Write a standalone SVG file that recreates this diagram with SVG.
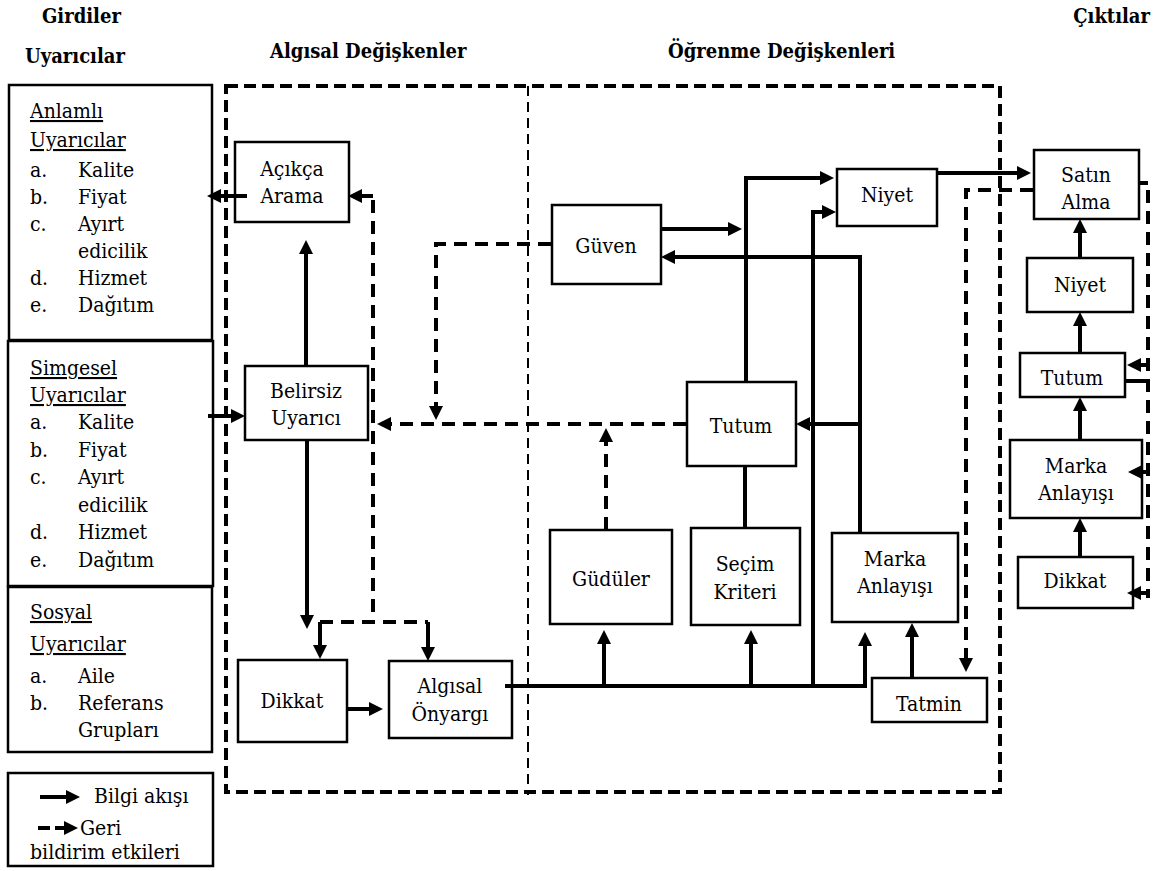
<svg xmlns="http://www.w3.org/2000/svg" width="1157" height="871" viewBox="0 0 1157 871">
  <style>
    text { font-family: "DejaVu Serif", serif; font-stretch: condensed; font-size: 21px; fill: #000; }
    .hd { font-weight: bold; font-size: 20px; }
    .c { text-anchor: middle; }
    .u { text-decoration: underline; }
    .box { fill: #fff; stroke: #000; stroke-width: 2.5; }
    .ln { fill: none; stroke: #000; stroke-width: 4; }
    .arr { marker-end: url(#ah); }
    .dash { fill: none; stroke: #000; stroke-width: 4; stroke-dasharray: 13 8; }
    .border { fill: none; stroke: #000; stroke-width: 4; stroke-dasharray: 12 6; }
    .divider { fill: none; stroke: #000; stroke-width: 2; stroke-dasharray: 10 6; }
  </style>
  <defs>
    <marker id="ah" markerUnits="userSpaceOnUse" markerWidth="14" markerHeight="14" refX="10" refY="7" orient="auto">
      <path d="M0,0 L14,7 L0,14 z" fill="#000"/>
    </marker>
  </defs>
  <rect width="1157" height="871" fill="#fff"/>

  <!-- column headings -->
  <g id="headings">
    <text class="hd" x="42" y="23">Girdiler</text>
    <text class="hd" x="25" y="63">Uyarıcılar</text>
    <text class="hd" x="270" y="58">Algısal Değişkenler</text>
    <text class="hd" x="668" y="58">Öğrenme Değişkenleri</text>
    <text class="hd" x="1150" y="23" text-anchor="end">Çıktılar</text>
  </g>

  <!-- variable regions -->
  <g id="regions">
    <rect class="border" x="226" y="86" width="774" height="706"/>
    <path class="divider" d="M528,86 V795"/>
  </g>

  <!-- input stimuli -->
  <g id="anlamli-uyaricilar">
    <rect class="box" x="9" y="85" width="203" height="255"/>
    <text class="u" x="30" y="118">Anlamlı</text>
    <text class="u" x="30" y="147">Uyarıcılar</text>
    <text x="30" y="177">a.</text><text x="78" y="177">Kalite</text>
    <text x="30" y="204">b.</text><text x="78" y="204">Fiyat</text>
    <text x="30" y="231">c.</text><text x="78" y="231">Ayırt</text>
    <text x="78" y="258">edicilik</text>
    <text x="30" y="285">d.</text><text x="78" y="285">Hizmet</text>
    <text x="30" y="312">e.</text><text x="78" y="312">Dağıtım</text>
  </g>
  <g id="simgesel-uyaricilar">
    <rect class="box" x="8" y="341" width="205" height="245"/>
    <text class="u" x="30" y="375">Simgesel</text>
    <text class="u" x="30" y="402">Uyarıcılar</text>
    <text x="30" y="429">a.</text><text x="78" y="429">Kalite</text>
    <text x="30" y="457">b.</text><text x="78" y="457">Fiyat</text>
    <text x="30" y="484">c.</text><text x="78" y="484">Ayırt</text>
    <text x="78" y="512">edicilik</text>
    <text x="30" y="539">d.</text><text x="78" y="539">Hizmet</text>
    <text x="30" y="567">e.</text><text x="78" y="567">Dağıtım</text>
  </g>
  <g id="sosyal-uyaricilar">
    <rect class="box" x="8" y="587" width="204" height="165"/>
    <text class="u" x="30" y="619">Sosyal</text>
    <text class="u" x="30" y="651">Uyarıcılar</text>
    <text x="30" y="683">a.</text><text x="78" y="683">Aile</text>
    <text x="30" y="710">b.</text><text x="78" y="710">Referans</text>
    <text x="78" y="737">Grupları</text>
  </g>

  <!-- legend -->
  <g id="legend">
    <rect class="box" x="8" y="773" width="205" height="93"/>
    <path class="ln arr" d="M40,797 H76"/>
    <text x="94" y="803">Bilgi akışı</text>
    <path class="ln arr" d="M38,828 H74" stroke-dasharray="12 5"/>
    <text x="80" y="835">Geri</text>
    <text x="30" y="859">bildirim etkileri</text>
  </g>

  <!-- perceptual variables -->
  <g id="acikca-arama">
    <rect class="box" x="235" y="142" width="114" height="80"/>
    <text class="c" x="292" y="176">Açıkça</text>
    <text class="c" x="292" y="203">Arama</text>
  </g>
  <g id="belirsiz-uyarici">
    <rect class="box" x="245" y="366" width="123" height="74"/>
    <text class="c" x="306" y="398">Belirsiz</text>
    <text class="c" x="306" y="425">Uyarıcı</text>
  </g>
  <g id="dikkat">
    <rect class="box" x="238" y="660" width="109" height="82"/>
    <text class="c" x="292" y="708">Dikkat</text>
  </g>
  <g id="algisal-onyargi">
    <rect class="box" x="389" y="661" width="123" height="77"/>
    <text class="c" x="450" y="693">Algısal</text>
    <text class="c" x="450" y="721">Önyargı</text>
  </g>

  <!-- learning variables -->
  <g id="guven">
    <rect class="box" x="552" y="205" width="109" height="79"/>
    <text class="c" x="606" y="253">Güven</text>
  </g>
  <g id="niyet">
    <rect class="box" x="837" y="169" width="100" height="57"/>
    <text class="c" x="887" y="202">Niyet</text>
  </g>
  <g id="tutum">
    <rect class="box" x="687" y="382" width="109" height="84"/>
    <text class="c" x="741" y="433">Tutum</text>
  </g>
  <g id="guduler">
    <rect class="box" x="550" y="530" width="122" height="94"/>
    <text class="c" x="611" y="586">Güdüler</text>
  </g>
  <g id="secim-kriteri">
    <rect class="box" x="691" y="528" width="109" height="97"/>
    <text class="c" x="745" y="571">Seçim</text>
    <text class="c" x="745" y="599">Kriteri</text>
  </g>
  <g id="marka-anlayisi">
    <rect class="box" x="832" y="533" width="126" height="89"/>
    <text class="c" x="895" y="566">Marka</text>
    <text class="c" x="895" y="593">Anlayışı</text>
  </g>
  <g id="tatmin">
    <rect class="box" x="872" y="678" width="115" height="44"/>
    <text class="c" x="929" y="711">Tatmin</text>
  </g>

  <!-- outputs -->
  <g id="satin-alma">
    <rect class="box" x="1034" y="150" width="105" height="69"/>
    <text class="c" x="1086" y="182">Satın</text>
    <text class="c" x="1086" y="209">Alma</text>
  </g>
  <g id="cikti-niyet">
    <rect class="box" x="1027" y="258" width="106" height="54"/>
    <text class="c" x="1080" y="292">Niyet</text>
  </g>
  <g id="cikti-tutum">
    <rect class="box" x="1020" y="353" width="105" height="44"/>
    <text class="c" x="1072" y="385">Tutum</text>
  </g>
  <g id="cikti-marka-anlayisi">
    <rect class="box" x="1010" y="440" width="132" height="78"/>
    <text class="c" x="1076" y="473">Marka</text>
    <text class="c" x="1076" y="500">Anlayışı</text>
  </g>
  <g id="cikti-dikkat">
    <rect class="box" x="1018" y="557" width="115" height="51"/>
    <text class="c" x="1075" y="588">Dikkat</text>
  </g>

  <!-- connectors -->
  <g id="connectors">
    <!-- information flow -->
    <path class="ln arr" d="M247,196 H211"/>
    <path class="ln arr" d="M208,416 H241"/>
    <path class="ln arr" d="M306,366 V244"/>
    <path class="ln arr" d="M307,440 V625"/>
    <path class="ln arr" d="M347,709 H379"/>
    <path class="ln arr" d="M505,686 H865 V636"/>
    <path class="ln arr" d="M604,686 V634"/>
    <path class="ln arr" d="M751,686 V634"/>
    <path class="ln arr" d="M813,686 V212 H832"/>
    <path class="ln arr" d="M746,382 V178 H830"/>
    <path class="ln arr" d="M661,229 H738"/>
    <path class="ln arr" d="M860,533 V257 H665"/>
    <path class="ln arr" d="M860,424 H800"/>
    <path class="ln" d="M745,528 V466"/>
    <path class="ln arr" d="M937,173 H1027"/>
    <path class="ln arr" d="M912,678 V627"/>
    <path class="ln arr" d="M1080,258 V223"/>
    <path class="ln arr" d="M1080,353 V316"/>
    <path class="ln arr" d="M1080,440 V401"/>
    <path class="ln arr" d="M1080,557 V522"/>

    <!-- feedback effects -->
    <path class="dash arr" d="M686,424 H381"/>
    <path class="dash arr" d="M551,244 H436 V416"/>
    <path class="dash arr" d="M606,530 V432"/>
    <path class="ln arr" d="M373,196 H352"/>
    <path class="dash" d="M373,200 V622"/>
    <path class="dash" d="M320,622 H428"/>
    <path class="ln arr" d="M320,622 V655"/>
    <path class="ln arr" d="M428,622 V657"/>
    <path class="dash arr" d="M1033,190 H966 V668"/>
    <path class="ln" d="M1139,183 H1148"/>
    <path class="dash" d="M1148,190 V598"/>
    <path class="ln arr" d="M1150,365 H1131"/>
    <path class="ln" d="M1125,381 H1150"/>
    <path class="ln arr" d="M1150,472 H1132"/>
    <path class="ln arr" d="M1150,593 H1131"/>
  </g>
</svg>
